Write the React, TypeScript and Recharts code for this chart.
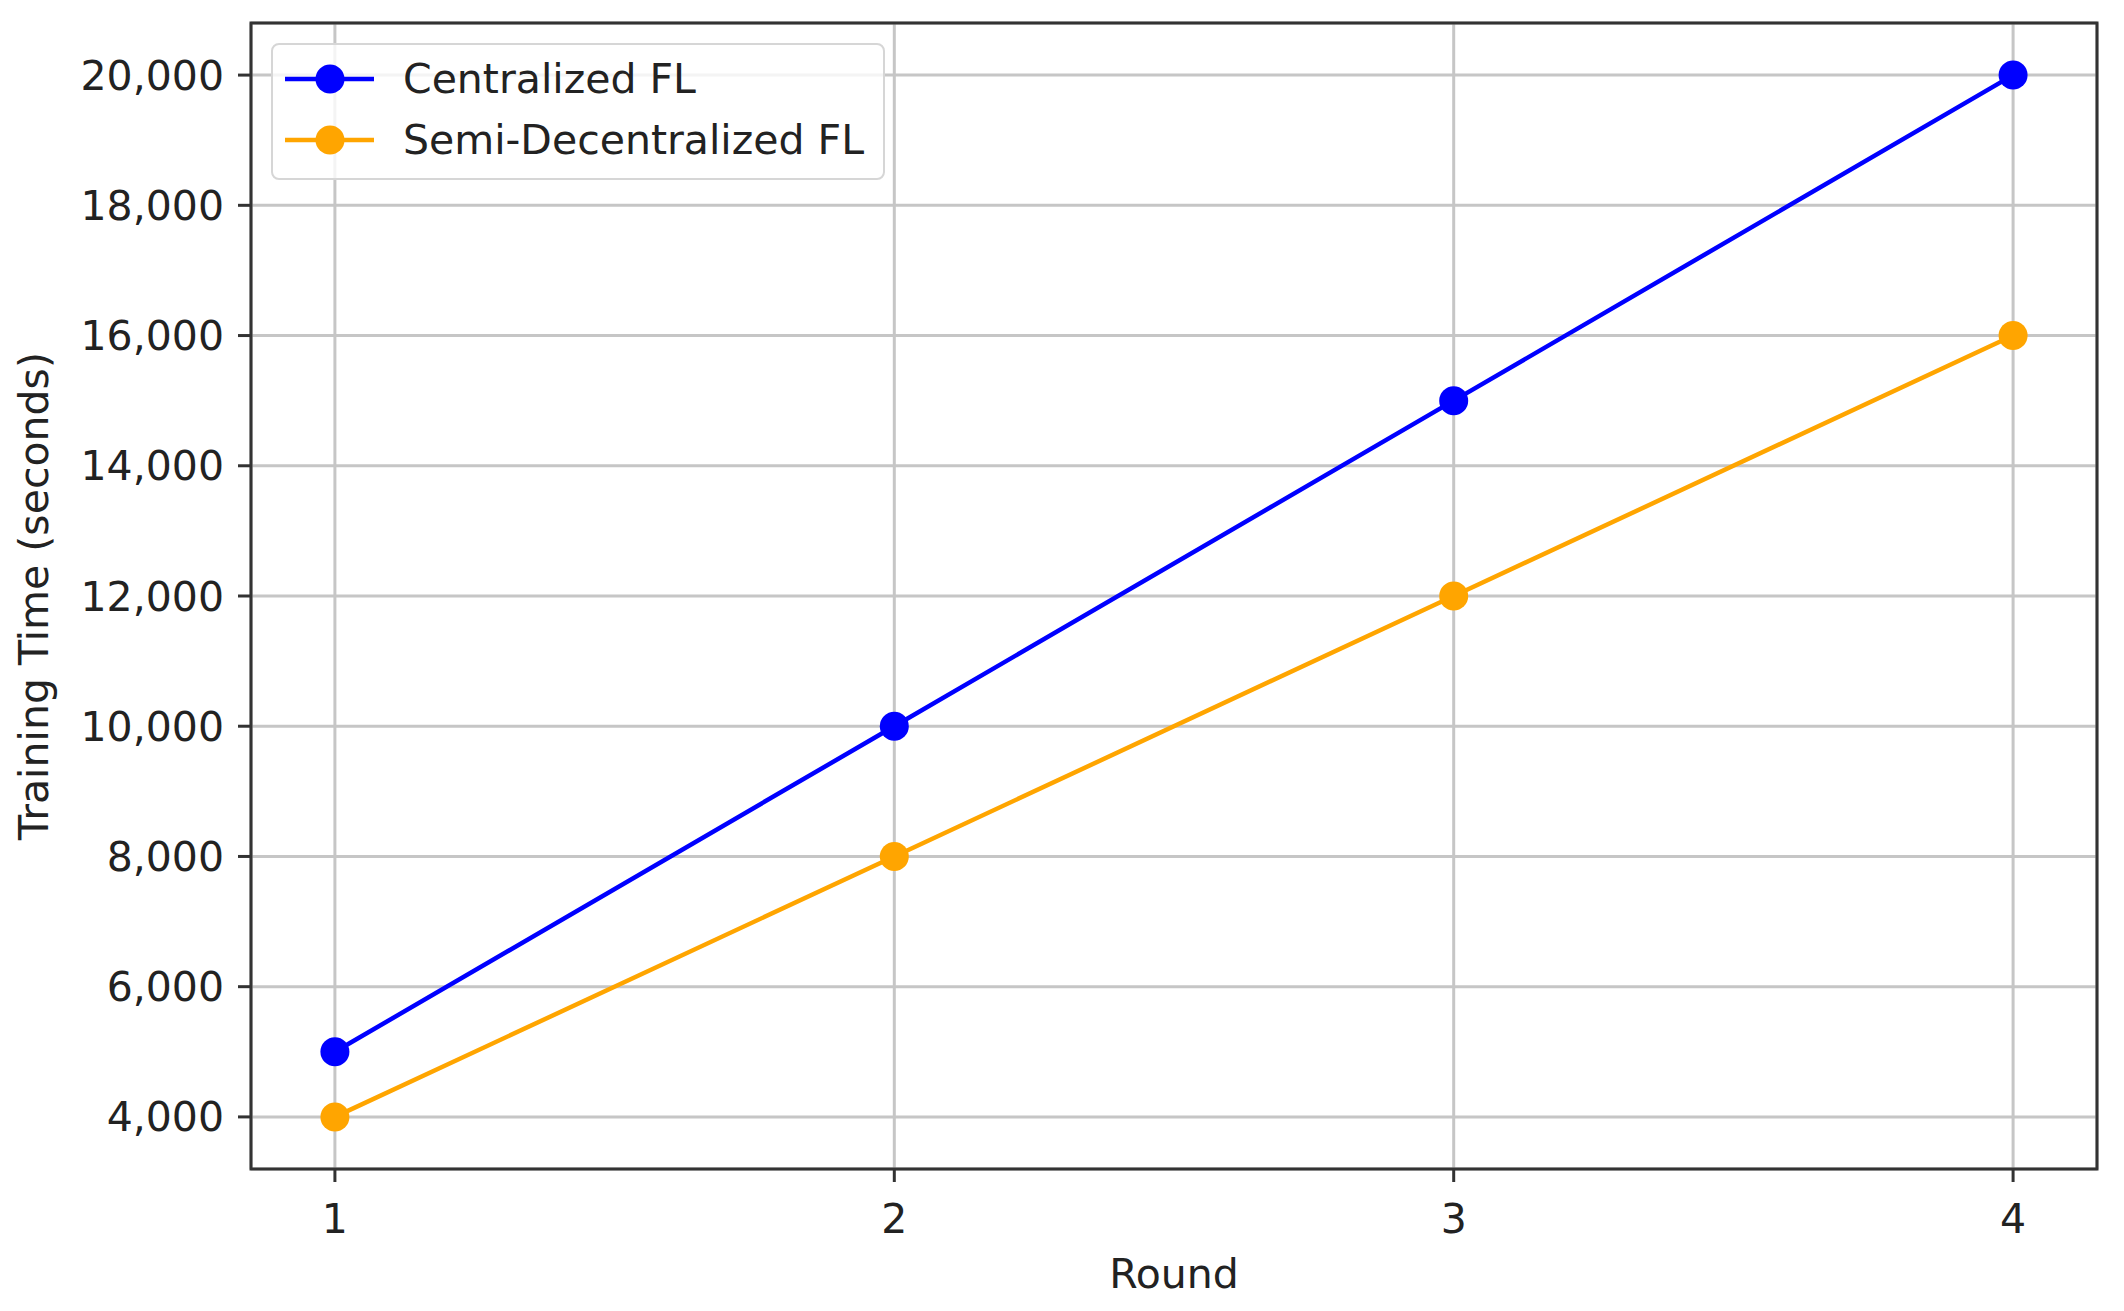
import React from 'react'
import {
  LineChart,
  Line,
  XAxis,
  YAxis,
  CartesianGrid,
  ReferenceArea,
} from 'recharts'

const rounds = [1, 2, 3, 4]
const centralized = [5000, 10000, 15000, 20000]
const semiDecentralized = [4000, 8000, 12000, 16000]
const yTicks = [4000, 6000, 8000, 10000, 12000, 14000, 16000, 18000, 20000]

const series = [
  { key: 'centralized', name: 'Centralized FL', color: '#0000ff' },
  { key: 'semi', name: 'Semi-Decentralized FL', color: '#ffa500' },
]

const data = rounds.map((r, i) => ({
  round: r,
  centralized: centralized[i],
  semi: semiDecentralized[i],
}))

const FONT = '"DejaVu Sans", Verdana, sans-serif'
const TEXT = '#222'
const FS = 41

const YLabel = (props: any) => {
  const vb = props.viewBox || {}
  const cx = 34
  const cy = vb.y + vb.height / 2
  return (
    <text
      x={cx}
      y={cy}
      transform={`rotate(-90, ${cx}, ${cy})`}
      textAnchor="middle"
      dominantBaseline="central"
      fontSize={FS}
      fontFamily={FONT}
      fill={TEXT}
    >
      Training Time (seconds)
    </text>
  )
}

function ChartLegend() {
  return (
    <div
      style={{
        position: 'absolute',
        left: 271,
        top: 43,
        width: 610,
        height: 133,
        border: '2px solid #d6d6d6',
        borderRadius: 8,
        background: 'rgba(255,255,255,0.8)',
        fontFamily: FONT,
        fontSize: FS,
        color: TEXT,
      }}
    >
      {series.map((s, i) => (
        <div
          key={s.key}
          style={{ position: 'absolute', left: 0, top: 4 + i * 61, height: 60, width: '100%' }}
        >
          <svg width={110} height={60} style={{ position: 'absolute', left: 0, top: 0 }}>
            <line x1={12} y1={30} x2={101} y2={30} stroke={s.color} strokeWidth={4.5} />
            <circle cx={57} cy={30} r={14.5} fill={s.color} />
          </svg>
          <span
            style={{ position: 'absolute', left: 130, top: 0, lineHeight: '60px', whiteSpace: 'nowrap' }}
          >
            {s.name}
          </span>
        </div>
      ))}
    </div>
  )
}

export default function App() {
  return (
    <div style={{ position: 'absolute', left: 0, top: 0, width: 2124, height: 1311, background: '#fff' }}>
      <LineChart
        width={2124}
        height={1311}
        data={data}
        margin={{ top: 23, right: 27, left: 51, bottom: 0 }}
      >
        <CartesianGrid stroke="#c6c6c6" strokeWidth={3} />
        <XAxis
          dataKey="round"
          type="number"
          domain={[0.85, 4.15]}
          ticks={rounds}
          height={142}
          axisLine={false}
          tickSize={13}
          tickMargin={22}
          tickLine={{ stroke: '#333', strokeWidth: 3 }}
          tick={{ fontSize: FS, fontFamily: FONT, fill: TEXT }}
          label={{
            value: 'Round',
            position: 'insideBottom',
            offset: 23,
            fontSize: FS,
            fontFamily: FONT,
            fill: TEXT,
          }}
        />
        <YAxis
          type="number"
          domain={[3200, 20800]}
          ticks={yTicks}
          width={200}
          axisLine={false}
          tickSize={13}
          tickMargin={14}
          tickLine={{ stroke: '#333', strokeWidth: 3 }}
          tick={{ fontSize: FS, fontFamily: FONT, fill: TEXT }}
          tickFormatter={(v: number) => v.toLocaleString('en-US')}
          label={<YLabel />}
        />
        <ReferenceArea
          x1={0.85}
          x2={4.15}
          y1={3200}
          y2={20800}
          fill="none"
          stroke="#333"
          strokeWidth={3}
          ifOverflow="visible"
        />
        {series.map((s) => (
          <Line
            key={s.key}
            type="linear"
            dataKey={s.key}
            name={s.name}
            stroke={s.color}
            strokeWidth={4.5}
            dot={{ r: 14.5, fill: s.color, stroke: 'none' }}
            activeDot={false}
            isAnimationActive={false}
          />
        ))}
      </LineChart>
      <ChartLegend />
    </div>
  )
}
